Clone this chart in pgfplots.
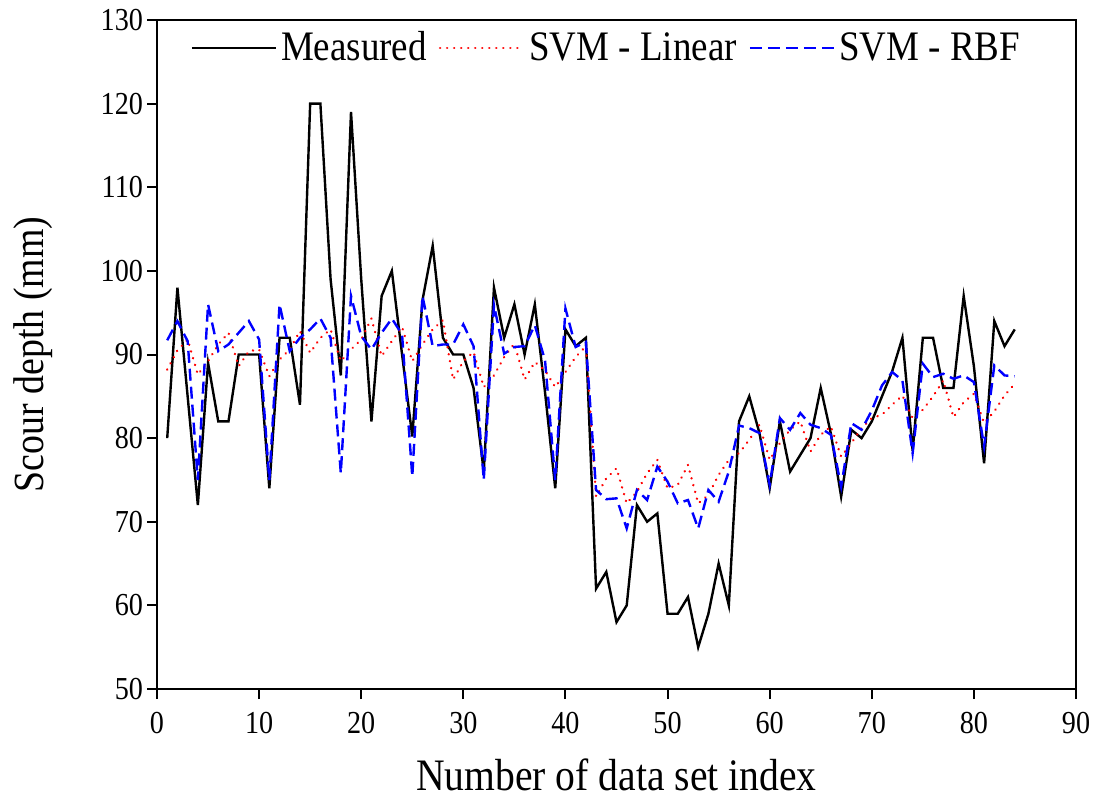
\documentclass[border=0pt]{standalone}
\usepackage{fontspec}
\setmainfont[FakeStretch=0.88]{Liberation Serif}
\usepackage{pgfplots}
\pgfplotsset{compat=1.18}
\usepackage{pgfplotstable}

% Measured scour depth and the two SVM predictions (mm)
\pgfplotstableread{
idx meas lin  rbf
1   80   88.2 91.7
2   98   90.5 94.0
3   85   91.8 91.6
4   72   87.6 75.0
5   89   89.2 96.0
6   82   91.2 90.4
7   82   92.6 91.2
8   90   88.6 92.6
9   90   90.4 94.0
10  90   90.6 91.8
11  74   87.4 75.0
12  92   89.4 96.0
13  92   90.6 90.4
14  84   92.8 92.0
15  120  90.2 93.0
16  120  92.0 94.3
17  99   93.0 92.0
18  87.5 89.2 75.8
19  119  90.6 97.0
20  99   91.8 92.2
21  82   94.3 90.6
22  97   89.8 92.6
23  100  91.6 94.3
24  90   93.3 92.4
25  80.2 89.2 75.4
26  96.5 91.2 97.0
27  103  93.0 91.0
28  92   94.1 91.2
29  90   87.0 91.2
30  90   89.2 93.6
31  86   90.3 91.0
32  76   86.1 75.0
33  98   87.5 95.9
34  92   89.7 90.1
35  96   91.3 90.9
36  90   87.0 91.0
37  96   89.1 93.5
38  85.5 88.1 89.3
39  74   86.1 75.0
40  93   87.9 95.5
41  91   89.7 90.9
42  92   91.0 91.5
43  62   73.0 73.8
44  64   75.2 72.7
45  58   76.4 72.8
46  60   72.2 69.2
47  72   73.6 73.8
48  70   75.8 72.6
49  71   77.4 76.6
50  59   74.0 74.8
51  59   74.4 72.2
52  61   76.8 72.6
53  55   72.2 69.2
54  59   73.2 73.8
55  65   75.6 72.4
56  60   77.4 76.0
57  82   78.2 81.5
58  85   79.8 81.2
59  80.6 81.6 80.6
60  74   77.4 74.4
61  82   79.4 82.4
62  76   81.0 81.0
63  78   82.0 83.0
64  80   78.4 81.6
65  86   80.4 81.2
66  80.5 81.4 80.4
67  73   77.8 74.2
68  81   79.4 81.8
69  80   81.2 81.0
70  82   82.4 83.3
71  85   82.8 86.3
72  88   84.0 87.9
73  92   85.1 86.9
74  78.5 82.4 78.2
75  92   83.4 88.9
76  92   85.0 87.3
77  86   86.9 87.7
78  86   82.5 87.1
79  97   84.3 87.5
80  88.6 85.3 86.7
81  77   81.8 79.0
82  94   83.2 88.7
83  91   85.1 87.5
84  93   86.5 87.4
}\scourdata

\begin{document}
\begin{tikzpicture}
\begin{axis}[
  name=ax,
  scale only axis,
  width=459.5pt, height=334.5pt,
  xmin=0, xmax=90, ymin=50, ymax=130,
  xtick={0,10,...,90},
  ytick={50,60,...,130},
  tick align=outside,
  tick pos=left,
  major tick length=5pt,
  every tick/.style={black, line width=1pt},
  axis line style={line width=1.2pt},
  /pgf/number format/assume math mode=true,
  tick label style={font=\fontsize{16}{16}\selectfont},
  x tick label style={yshift=-3pt},
  y tick label style={xshift=1.5pt},
  xlabel={Number of data set index},
  ylabel={Scour depth (mm)},
  x label style={font=\fontsize{22.5}{22.5}\selectfont,
    at={(axis description cs:0.5,-0.128)}, anchor=center},
  y label style={font=\fontsize{21.5}{21.5}\selectfont,
    at={(axis description cs:-0.135,0.5)}, anchor=center},
  legend columns=3,
  legend style={
    draw=none, fill=none,
    at={(0.49,0.995)}, anchor=north,
    font=\fontsize{21}{21}\selectfont,
    /tikz/every even column/.append style={column sep=4pt},
  },
  legend image code/.code={
    \draw[#1] (0pt,0pt) -- (42pt,0pt);
  },
]
\addplot[black, line width=1.2pt] table[x=idx, y=meas] {\scourdata};
\addlegendentry{Measured}
\addplot[red, line width=1.3pt, dash pattern=on 0.01pt off 3.5pt, line cap=round] table[x=idx, y=lin] {\scourdata};
\addlegendentry{SVM - Linear}
\addplot[blue, line width=1.2pt, dash pattern=on 6pt off 3pt] table[x=idx, y=rbf] {\scourdata};
\addlegendentry{SVM - RBF}
\end{axis}
\pgfresetboundingbox
\path ([shift={(-78.5pt,-54.5pt)}]ax.south west) rectangle ([shift={(13pt,10pt)}]ax.north east);
\end{tikzpicture}
\end{document}
